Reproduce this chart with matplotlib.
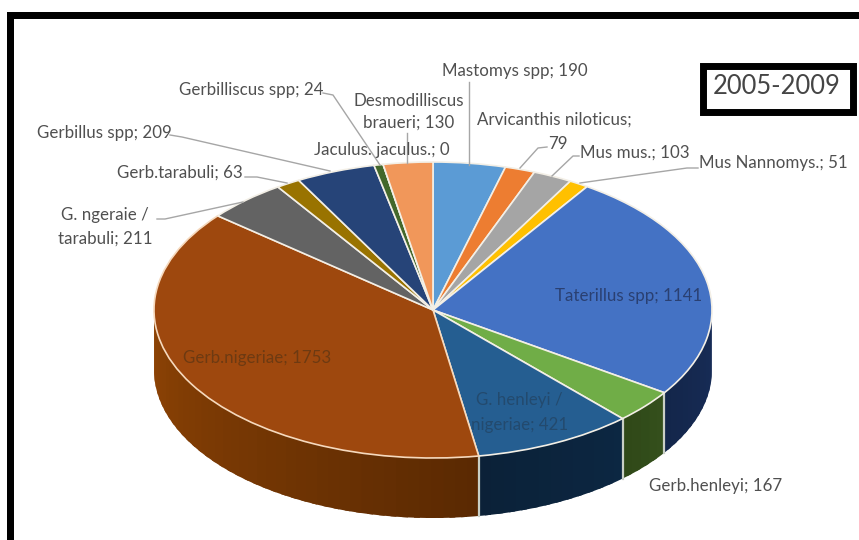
import numpy as np
import matplotlib
matplotlib.use("Agg")
import matplotlib.pyplot as plt
from matplotlib.patches import Rectangle, Polygon
from matplotlib.colors import to_rgb

W, H = 859, 540
plt.rcParams["font.family"] = ["Lato", "DejaVu Sans"]

species = ["Mastomys spp", "Arvicanthis niloticus", "Mus mus.", "Mus Nannomys.",
           "Taterillus spp", "Gerb.henleyi", "G. henleyi / nigeriae", "Gerb.nigeriae",
           "G. ngeraie / tarabuli", "Gerb.tarabuli", "Gerbillus spp", "Gerbilliscus spp",
           "Jaculus. jaculus.", "Desmodilliscus braueri"]
counts = [190, 79, 103, 51, 1141, 167, 421, 1753, 211, 63, 209, 24, 0, 130]
colors = ["#5B9BD5", "#ED7D31", "#A5A5A5", "#FFC000", "#4472C4", "#70AD47", "#255E91",
          "#9E480E", "#636363", "#997300", "#264478", "#43682B", "#7CAFDD", "#F1975A"]
# Shaded wall colours at the start and end of each slice's outer edge
wall_shades = {
    "Taterillus spp": ("#182d58", "#13264b"),
    "Gerb.henleyi": ("#34501c", "#2f4818"),
    "G. henleyi / nigeriae": ("#0c2742", "#0b2138"),
    "Gerb.nigeriae": ("#5a2902", "#8f4405"),
}
edge_tints = {"Gerb.nigeriae": "#f6d9bd"}

# Pie geometry in pixels
cx, cy, rx, ry, depth = 433, 310, 279, 148, 60

fig = plt.figure(figsize=(W / 100, H / 100), dpi=100, facecolor="white")


def overlay(zorder):
    ax = fig.add_axes([0, 0, 1, 1], zorder=zorder)
    ax.set_xlim(0, W)
    ax.set_ylim(H, 0)
    ax.axis("off")
    return ax


back = overlay(0)
front = overlay(2)

# Outer frame, open on the right and bottom edges of the canvas
back.add_patch(Rectangle((7, 12), W, 7, fc="black", ec="none"))
back.add_patch(Rectangle((7, 12), 7, H, fc="black", ec="none"))

# Cylinder wall, drawn as overlapping vertical strips for a smooth horizontal shade
shares = np.asarray(counts, float) / sum(counts)
edges = np.concatenate([[0], np.cumsum(shares)]) * 2 * np.pi
for i, name in enumerate(species):
    lo, hi = max(edges[i], np.pi / 2), min(edges[i + 1], 1.5 * np.pi)
    if hi <= lo:
        continue
    c0, c1 = wall_shades[name]
    c0, c1 = np.array(to_rgb(c0)), np.array(to_rgb(c1))
    steps = np.linspace(lo, hi, max(int((hi - lo) * 24), 2) + 1)
    for k, (a, b) in enumerate(zip(steps[:-1], steps[1:])):
        f = ((a + b) / 2 - lo) / (hi - lo)
        col = c0 + (c1 - c0) * f
        arc = np.linspace(a, min(b + (b - a) * 0.5, hi), 12)
        xs = cx + rx * np.sin(arc)
        ys = cy - ry * np.cos(arc)
        outline = list(zip(xs, ys)) + list(zip(xs[::-1], ys[::-1] + depth))
        back.add_patch(Polygon(outline, fc=col, ec="none", zorder=2 + k * 1e-3))
    if lo > np.pi / 2:
        x0, y0 = cx + rx * np.sin(lo), cy - ry * np.cos(lo)
        back.plot([x0, x0], [y0, y0 + depth], color="#c9cfc6", lw=1.6, zorder=5)

# Top face of the pie, stretched into an ellipse by its own axes box
pie_ax = fig.add_axes([(cx - rx) / W, 1 - (cy + ry) / H, 2 * rx / W, 2 * ry / H], zorder=1)
wedges, _ = pie_ax.pie(counts, colors=colors, startangle=90, counterclock=False, radius=1,
                       wedgeprops=dict(edgecolor="#f3efe6", linewidth=1.2))
pie_ax.set_aspect("auto")
pie_ax.set_xlim(-1, 1)
pie_ax.set_ylim(-1, 1)
for w in wedges:
    w.set_clip_on(False)
for w, name in zip(wedges, species):
    if name in edge_tints:
        w.set_edgecolor(edge_tints[name])

# Leader lines
line_color = "#a6a6a6"
leaders = [
    ([323, 333, 380], [93, 95, 165]),
    ([170, 182, 330], [135, 137, 171]),
    ([245, 257, 287], [177, 177, 183]),
    ([157, 165, 243], [219, 219, 202]),
    ([407, 407], [133, 163]),
    ([469, 469], [82, 165]),
    ([547, 538, 520], [147, 148, 168]),
    ([579, 573, 552], [156, 156, 176]),
    ([698, 687, 580], [168, 168, 183]),
]
for xs, ys in leaders:
    front.plot(xs, ys, color=line_color, lw=1)

# Data labels
grey = "#505050"
fs = 12.2
labels = [
    ("Gerbilliscus spp; 24", 179, 90, "left", grey),
    ("Gerbillus spp; 209", 37, 133, "left", grey),
    ("Gerb.tarabuli; 63", 117, 173, "left", grey),
    ("G. ngeraie /", 105, 215, "center", grey),
    ("tarabuli; 211", 105, 239, "center", grey),
    ("Desmodilliscus", 409, 101, "center", grey),
    ("braueri; 130", 409, 123, "center", grey),
    ("Jaculus. jaculus.; 0", 314, 150, "left", grey),
    ("Mastomys spp; 190", 442, 71, "left", grey),
    ("Arvicanthis niloticus;", 477, 120, "left", grey),
    ("79", 548, 144, "left", grey),
    ("Mus mus.; 103", 580, 153, "left", grey),
    ("Mus Nannomys.; 51", 699, 163, "left", grey),
    ("Taterillus spp; 1141", 555, 296, "left", "#2a4072"),
    ("Gerb.nigeriae; 1753", 183, 358, "left", "#6d3a12"),
    ("G. henleyi /", 519, 400, "center", "#234a6e"),
    ("nigeriae; 421", 520, 425, "center", "#234a6e"),
    ("Gerb.henleyi; 167", 649, 486, "left", grey),
]
for text, x, y, ha, color in labels:
    front.text(x, y, text, ha=ha, va="center", fontsize=fs, color=color)

# Period box
front.add_patch(Rectangle((702.5, 65.5), 150, 46, fc="white", ec="black", lw=5))
front.text(777, 86, "2005-2009", ha="center", va="center", fontsize=18.4, color="#454545")

fig.savefig("out.png", dpi=100, facecolor="white")
